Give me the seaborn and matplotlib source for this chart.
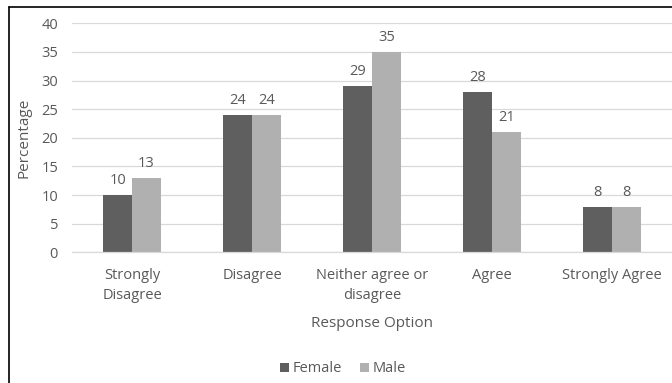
import matplotlib
matplotlib.use("Agg")
import matplotlib.pyplot as plt
from matplotlib.lines import Line2D
import pandas as pd
import seaborn as sns

# Survey responses by gender (percent)
categories = ["Strongly\nDisagree", "Disagree", "Neither agree or\ndisagree", "Agree", "Strongly Agree"]
female = [10, 24, 29, 28, 8]
male = [13, 24, 35, 21, 8]
series = ["Female", "Male"]
colors = ["#5f5f5f", "#b0b0b0"]
yticks = [0, 5, 10, 15, 20, 25, 30, 35, 40]

df = pd.DataFrame({
    "Response Option": categories * 2,
    "Percentage": female + male,
    "Gender": ["Female"] * len(categories) + ["Male"] * len(categories),
})

sns.set_theme(style="white")
plt.rcParams["font.family"] = ["Open Sans", "DejaVu Sans"]
text_color = "#595959"
grid_color = "#d9d9d9"
fs = 10.5
W, H = 672, 383

fig = plt.figure(figsize=(W / 100, H / 100), dpi=100)
ax = fig.add_axes([72 / W, 1 - 252.3 / H, 1 - 72 / W, (252.3 - 23.3) / H])

sns.barplot(data=df, x="Response Option", y="Percentage", hue="Gender",
            hue_order=series, palette=colors, width=0.48, ax=ax,
            saturation=1, errorbar=None, linewidth=0)

for cont in ax.containers:
    ax.bar_label(cont, fmt="%g", padding=5, fontsize=fs, color=text_color)

ax.set_ylim(0, 40)
ax.set_yticks(yticks)
ax.set_xlim(-0.5, len(categories) - 0.5)
ax.yaxis.grid(True, color=grid_color, linewidth=0.9)
ax.set_axisbelow(True)
for side in ["top", "right", "left"]:
    ax.spines[side].set_visible(False)
ax.spines["bottom"].set_color(grid_color)
ax.spines["bottom"].set_linewidth(0.9)
ax.tick_params(axis="both", length=0, labelsize=fs, labelcolor=text_color)
ax.tick_params(axis="y", pad=10)
ax.tick_params(axis="x", pad=11)
for lab in ax.get_xticklabels():
    lab.set_linespacing(1.45)

ax.set_ylabel("Percentage", fontsize=fs + 0.5, color=text_color, labelpad=7)
ax.set_xlabel("Response Option", fontsize=fs + 0.5, color=text_color, labelpad=10)

sns.move_legend(ax, "center", bbox_to_anchor=(343 / W, 1 - 369 / H),
                bbox_transform=fig.transFigure, ncol=2, frameon=False,
                title=None, fontsize=fs, handlelength=0.6, handleheight=0.6,
                handletextpad=0.3, columnspacing=1.2, labelcolor=text_color)

# Chart frame edges
fig.add_artist(Line2D([9 / W, 9 / W], [0, 1 - 7 / H], transform=fig.transFigure,
                      color="black", linewidth=1.2))
fig.add_artist(Line2D([9 / W, 1], [1 - 7 / H, 1 - 7 / H], transform=fig.transFigure,
                      color="black", linewidth=1.2))

fig.savefig("out.png", dpi=100)
